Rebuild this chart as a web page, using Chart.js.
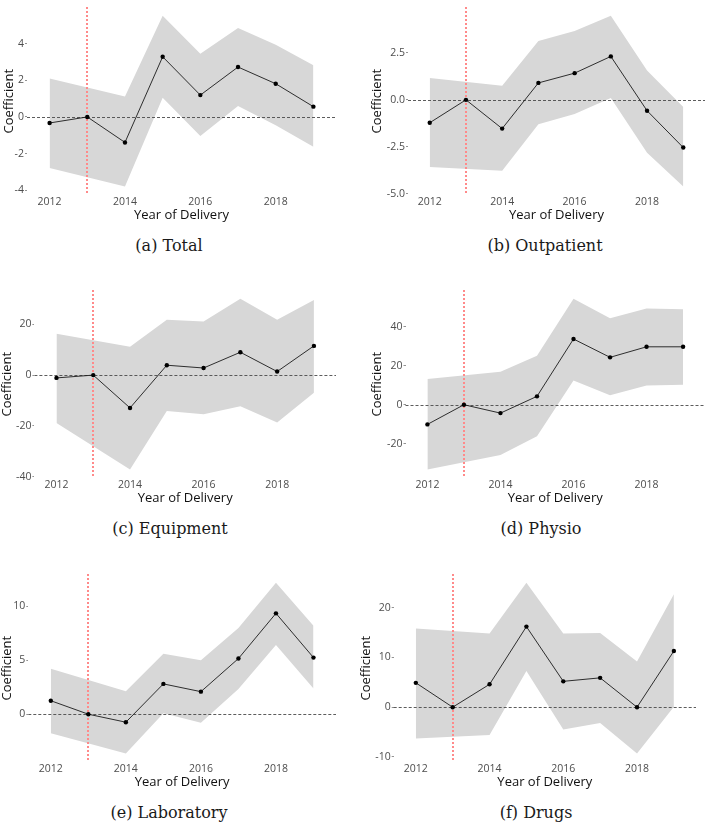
<!DOCTYPE html>
<html>
<head>
<meta charset="utf-8">
<script src="https://cdn.jsdelivr.net/npm/chart.js@4.4.1/dist/chart.umd.min.js"></script>
<style>
  body { margin: 0; background: #fff; width: 709px; height: 823px; overflow: hidden; position: relative; }
  canvas { position: absolute; }
  .cap { position: absolute; font-family: "DejaVu Serif", serif; font-size: 16px; color: #1a1a1a;
         transform: translate(-50%, -50%); white-space: nowrap; }
</style>
</head>
<body>
<script>
// event-study coefficients by year of delivery, 2013 = reference year
const YEARS = [2012, 2013, 2014, 2015, 2016, 2017, 2018, 2019];
const REF_YEAR = 2013;
const X_TICKS = [2012, 2014, 2016, 2018];

const TOTAL_COEF = [-0.33, 0, -1.39, 3.28, 1.19, 2.72, 1.81, 0.56];
const TOTAL_LO   = [-2.79, null, -3.79, 1.04, -1.04, 0.60, -0.46, -1.63];
const TOTAL_HI   = [2.09, null, 1.12, 5.51, 3.44, 4.84, 3.93, 2.82];
const TOTAL_TICKS = [-4, -2, 0, 2, 4];

const OUTP_COEF = [-1.22, 0, -1.53, 0.90, 1.42, 2.31, -0.58, -2.54];
const OUTP_LO   = [-3.58, null, -3.77, -1.30, -0.75, 0.10, -2.81, -4.61];
const OUTP_HI   = [1.16, null, 0.75, 3.13, 3.66, 4.47, 1.56, -0.38];
const OUTP_TICKS = [-5, -2.5, 0, 2.5];

const EQUIP_COEF = [-1.1, 0, -12.9, 3.9, 2.8, 9.0, 1.4, 11.5];
const EQUIP_LO   = [-18.8, null, -37.1, -14.1, -15.4, -12.2, -18.6, -6.9];
const EQUIP_HI   = [16.3, null, 11.2, 21.8, 21.1, 30.0, 21.8, 29.5];
const EQUIP_TICKS = [-40, -20, 0, 20];

const PHYSIO_COEF = [-10.1, 0, -4.3, 4.3, 33.7, 24.3, 29.7, 29.7];
const PHYSIO_LO   = [-33.2, null, -25.8, -16.2, 12.4, 4.8, 9.9, 10.2];
const PHYSIO_HI   = [13.2, null, 16.9, 25.1, 54.3, 44.4, 49.4, 48.9];
const PHYSIO_TICKS = [-20, 0, 20, 40];

const LAB_COEF = [1.25, 0, -0.74, 2.81, 2.09, 5.16, 9.35, 5.25];
const LAB_LO   = [-1.76, null, -3.64, 0.09, -0.80, 2.33, 6.42, 2.39];
const LAB_HI   = [4.21, null, 2.12, 5.61, 5.01, 8.00, 12.18, 8.21];
const LAB_TICKS = [0, 5, 10];

const DRUGS_COEF = [4.9, 0, 4.6, 16.2, 5.2, 5.9, 0, 11.3];
const DRUGS_LO   = [-6.3, null, -5.6, 7.3, -4.5, -3.2, -9.3, 0.1];
const DRUGS_HI   = [15.8, null, 14.8, 25.0, 14.8, 14.9, 9.2, 22.7];
const DRUGS_TICKS = [-10, 0, 10, 20];

// panel placement (px) - canvas box, plot edges, y title centre, caption centre
const PANELS = [
  { cap: "(a) Total",      coef: TOTAL_COEF,  lo: TOTAL_LO,  hi: TOTAL_HI,  ticks: TOTAL_TICKS,  dec: 0,
    left: 0,   top: 0,   width: 340, plotLeft: 27,    plotRight: 338,   titleX: 9,     capX: 169, capY: 245 },
  { cap: "(b) Outpatient", coef: OUTP_COEF,   lo: OUTP_LO,   hi: OUTP_HI,   ticks: OUTP_TICKS,   dec: 1,
    left: 355, top: 0,   width: 354, plotLeft: 408,   plotRight: 709,   titleX: 377,   capX: 545, capY: 245 },
  { cap: "(c) Equipment",  coef: EQUIP_COEF,  lo: EQUIP_LO,  hi: EQUIP_HI,  ticks: EQUIP_TICKS,  dec: 0,
    left: 0,   top: 283, width: 340, plotLeft: 34.4,  plotRight: 338.7, titleX: 7,     capX: 170, capY: 528 },
  { cap: "(d) Physio",     coef: PHYSIO_COEF, lo: PHYSIO_LO, hi: PHYSIO_HI, ticks: PHYSIO_TICKS, dec: 0,
    left: 355, top: 283, width: 354, plotLeft: 405.5, plotRight: 709,   titleX: 377,   capX: 541, capY: 528 },
  { cap: "(e) Laboratory", coef: LAB_COEF,    lo: LAB_LO,    hi: LAB_HI,    ticks: LAB_TICKS,    dec: 0,
    left: 0,   top: 567, width: 340, plotLeft: 28.3,  plotRight: 339,   titleX: 7,     capX: 169, capY: 812 },
  { cap: "(f) Drugs",      coef: DRUGS_COEF,  lo: DRUGS_LO,  hi: DRUGS_HI,  ticks: DRUGS_TICKS,  dec: 0,
    left: 355, top: 567, width: 345, plotLeft: 393.7, plotRight: 698.7, titleX: 366.5, capX: 536, capY: 812 },
];

const CANVAS_H = 222;
const PLOT_H = 195;
const TICK_FONT = { family: "'Open Sans', sans-serif", size: 10.5 };
const TITLE_FONT = { family: "'Open Sans', sans-serif", size: 13, lineHeight: 1 };

// zero line and the red reference-year line go over the band, under the coefficients
const refLines = {
  id: "refLines",
  afterDatasetDraw(chart, args) {
    if (args.index !== 1) return;
    const { ctx, chartArea: a, scales: { x, y } } = chart;
    ctx.save();
    ctx.lineWidth = 0.9;
    ctx.setLineDash([3, 2]);
    ctx.strokeStyle = "#4a4a4a";
    const y0 = Math.round(y.getPixelForValue(0)) + 0.5;
    ctx.beginPath(); ctx.moveTo(a.left, y0); ctx.lineTo(a.right, y0); ctx.stroke();
    // red dotted vertical at the reference year, pixel-snapped, 2px wide
    ctx.fillStyle = "#ff8a8a";
    const x0 = Math.round(x.getPixelForValue(REF_YEAR) - 1);
    for (let yy = Math.round(a.top); yy < a.bottom; yy += 4) {
      ctx.fillRect(x0, yy, 2, 2);
    }
    ctx.restore();
  }
};

function pts(vals) {
  return YEARS.map((yr, i) => ({ x: yr, y: vals[i] }));
}

function makePanel(p) {
  const cv = document.createElement("canvas");
  cv.width = p.width;
  cv.height = CANVAS_H;
  cv.style.left = p.left + "px";
  cv.style.top = p.top + "px";
  document.body.appendChild(cv);

  const cap = document.createElement("div");
  cap.className = "cap";
  cap.textContent = p.cap;
  cap.style.left = p.capX + "px";
  cap.style.top = p.capY + "px";
  document.body.appendChild(cap);

  // ggplot-like 5% expansion of the band range
  const vals = p.lo.concat(p.hi).filter(v => v !== null);
  const mn = Math.min(...vals), mx = Math.max(...vals);
  const pad = (mx - mn) * 0.05;

  new Chart(cv, {
    type: "line",
    data: {
      datasets: [
        { data: pts(p.coef), borderColor: "#1a1a1a", borderWidth: 0.9, pointRadius: 2.2,
          pointBackgroundColor: "#000", pointBorderWidth: 0, tension: 0, fill: false },
        { data: pts(p.hi), borderWidth: 0, pointRadius: 0, spanGaps: true,
          backgroundColor: "#d7d7d7", fill: "+1", tension: 0 },
        { data: pts(p.lo), borderWidth: 0, pointRadius: 0, spanGaps: true, fill: false, tension: 0 },
      ]
    },
    options: {
      responsive: false,
      animation: false,
      devicePixelRatio: 1,
      layout: { padding: { left: 0, top: 0, bottom: 0, right: p.left + p.width - p.plotRight } },
      plugins: { legend: { display: false }, tooltip: { enabled: false } },
      scales: {
        x: {
          type: "linear", min: 2011.4, max: 2019.6,
          afterBuildTicks: s => { s.ticks = X_TICKS.map(v => ({ value: v })); },
          afterFit: s => { s.height = CANVAS_H - PLOT_H; },
          ticks: { callback: v => String(v), color: "#4d4d4d", font: TICK_FONT, padding: 1,
                   maxRotation: 0, autoSkip: false },
          grid: { display: false, drawTicks: false, tickLength: 0 },
          border: { display: false },
          title: { display: true, text: "Year of Delivery", color: "#111", font: TITLE_FONT,
                   padding: { top: 0, bottom: 0.5 } }
        },
        y: {
          min: mn - pad, max: mx + pad,
          afterBuildTicks: s => { s.ticks = p.ticks.map(v => ({ value: v })); },
          afterFit: s => { s.width = p.plotLeft - p.left; },
          ticks: { callback: v => v.toFixed(p.dec), color: "#4d4d4d", font: TICK_FONT, padding: 1 },
          grid: { display: true, drawOnChartArea: false, drawTicks: true, tickLength: 2,
                  color: "#777", lineWidth: 0.8 },
          border: { display: false },
          title: { display: true, text: "Coefficient", color: "#111", font: TITLE_FONT,
                   padding: { top: Math.max(0, p.titleX - p.left - 6.5), bottom: 0 } }
        }
      }
    },
    plugins: [refLines]
  });
}

PANELS.forEach(makePanel);
</script>
</body>
</html>
